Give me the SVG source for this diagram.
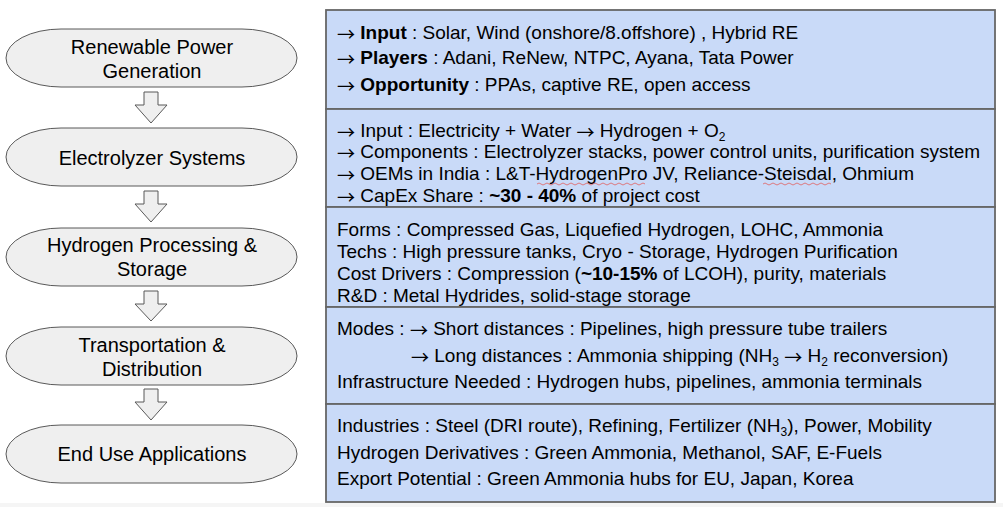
<svg xmlns="http://www.w3.org/2000/svg" width="1003" height="507" viewBox="0 0 1003 507">
<style>
.node{fill:#efefef;stroke:#595959;stroke-width:1}
.nt{font-family:"Liberation Sans",Arial,sans-serif;font-size:20px;fill:#000;text-anchor:middle}
.box{fill:#c9daf8;stroke:#666;stroke-width:1.8}
.bt{font-family:"Liberation Sans",Arial,sans-serif;font-size:19px;fill:#000}
.b{font-weight:bold}
.sub{font-size:12px}
.ar{font-family:"Noto Sans CJK SC","Noto Sans CJK JP",sans-serif;font-size:18px;baseline-shift:-1.5px}
.arr{fill:#efefef;stroke:#595959;stroke-width:1}
.sq{fill:none;stroke:#e06060;stroke-width:0.8}
</style>
<rect x="0" y="0" width="1003" height="507" fill="#ffffff"/>
<rect x="0" y="503" width="1003" height="4" fill="#f5f5f5"/>

<g id="n1"><rect class="node" x="6" y="29" width="291" height="58" rx="55" ry="29"/><text class="nt" x="152" y="54">Renewable Power</text><text class="nt" x="152" y="78">Generation</text></g>
<g id="n2"><rect class="node" x="6" y="128" width="291" height="58" rx="55" ry="29"/><text class="nt" x="152" y="165">Electrolyzer Systems</text></g>
<g id="n3"><rect class="node" x="6" y="228" width="291" height="58" rx="55" ry="29"/><text class="nt" x="152" y="252">Hydrogen Processing &amp;</text><text class="nt" x="152" y="276">Storage</text></g>
<g id="n4"><rect class="node" x="6" y="327" width="291" height="58" rx="55" ry="29"/><text class="nt" x="152" y="352">Transportation &amp;</text><text class="nt" x="152" y="376">Distribution</text></g>
<g id="n5"><rect class="node" x="6" y="425" width="291" height="58" rx="55" ry="29"/><text class="nt" x="152" y="461">End Use Applications</text></g>

<g id="connectors">
<path class="arr" d="M144,92 H158 V105 H167 L151,123 L135,105 H144 Z"/>
<path class="arr" d="M144,191 H158 V204 H167 L151,222 L135,204 H144 Z"/>
<path class="arr" d="M144,291 H158 V304 H167 L151,321 L135,304 H144 Z"/>
<path class="arr" d="M144,389 H158 V402 H167 L151,420 L135,402 H144 Z"/>
</g>

<g id="b1"><rect class="box" x="326" y="10" width="669" height="99"/>
<text class="bt" x="337" y="39"><tspan class="ar">→</tspan> <tspan class="b">Input</tspan> : Solar, Wind (onshore/8.offshore) , Hybrid RE</text>
<text class="bt" x="337" y="64"><tspan class="ar">→</tspan> <tspan class="b">Players</tspan> : Adani, ReNew, NTPC, Ayana, Tata Power</text>
<text class="bt" x="337" y="91"><tspan class="ar">→</tspan> <tspan class="b">Opportunity</tspan> : PPAs, captive RE, open access</text>
</g>
<g id="b2"><rect class="box" x="326" y="109" width="669" height="98"/>
<text class="bt" x="337" y="137"><tspan class="ar">→</tspan> Input : Electricity + Water <tspan class="ar">→</tspan> Hydrogen + O<tspan class="sub" dy="4">2</tspan></text>
<text class="bt" x="337" y="158"><tspan class="ar">→</tspan> Components : Electrolyzer stacks, power control units, purification system</text>
<text class="bt" x="337" y="180"><tspan class="ar">→</tspan> OEMs in India : L&amp;T-HydrogenPro JV, Reliance-Steisdal, Ohmium</text>
<text class="bt" x="337" y="202"><tspan class="ar">→</tspan> CapEx Share : <tspan class="b">~30 - 40%</tspan> of project cost</text>
<path class="sq" d="M537,184 q2,-2 4,0 t4,0 t4,0 t4,0 t4,0 t4,0 t4,0 t4,0 t4,0 t4,0 t4,0 t4,0 t4,0 t4,0 t4,0 t4,0 t4,0 t4,0 t4,0 t4,0 t4,0 t4,0 t4,0 t4,0 t4,0 t4,0 t4,0"/>
<path class="sq" d="M763,184 q2,-2 4,0 t4,0 t4,0 t4,0 t4,0 t4,0 t4,0 t4,0 t4,0 t4,0 t4,0 t4,0 t4,0 t4,0 t4,0 t4,0 t4,0"/>
</g>
<g id="b3"><rect class="box" x="326" y="207" width="669" height="100"/>
<text class="bt" x="337" y="236">Forms : Compressed Gas, Liquefied Hydrogen, LOHC, Ammonia</text>
<text class="bt" x="337" y="258">Techs : High pressure tanks, Cryo - Storage, Hydrogen Purification</text>
<text class="bt" x="337" y="280">Cost Drivers : Compression (<tspan class="b">~10-15%</tspan> of LCOH), purity, materials</text>
<text class="bt" x="337" y="302">R&amp;D : Metal Hydrides, solid-stage storage</text>
</g>
<g id="b4"><rect class="box" x="326" y="307" width="669" height="97"/>
<text class="bt" x="337" y="335">Modes : <tspan class="ar">→</tspan> Short distances : Pipelines, high pressure tube trailers</text>
<text class="bt" x="411" y="362"><tspan class="ar">→</tspan> Long distances : Ammonia shipping (NH<tspan class="sub" dy="4">3</tspan><tspan dy="-4"> </tspan><tspan class="ar">→</tspan> H<tspan class="sub" dy="4">2</tspan><tspan dy="-4"> reconversion)</tspan></text>
<text class="bt" x="337" y="388">Infrastructure Needed : Hydrogen hubs, pipelines, ammonia terminals</text>
</g>
<g id="b5"><rect class="box" x="326" y="404" width="669" height="98"/>
<text class="bt" x="337" y="432">Industries : Steel (DRI route), Refining, Fertilizer (NH<tspan class="sub" dy="4">3</tspan><tspan dy="-4">), Power, Mobility</tspan></text>
<text class="bt" x="337" y="459">Hydrogen Derivatives : Green Ammonia, Methanol, SAF, E-Fuels</text>
<text class="bt" x="337" y="485">Export Potential : Green Ammonia hubs for EU, Japan, Korea</text>
</g>
</svg>
